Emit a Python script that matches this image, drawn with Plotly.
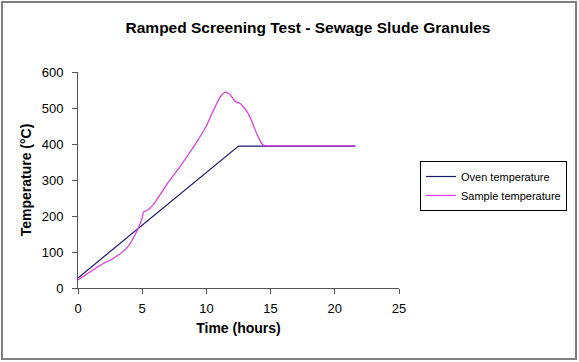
import plotly.graph_objects as go

# Data (hours, °C)
oven_time = [0, 12.5, 21.6]
oven_temp = [28, 394, 394]

sample_time = [0, 0.5, 1, 1.5, 2, 2.5, 3, 3.5, 4, 4.4, 4.67, 4.85, 5.0, 5.1, 5.45, 6, 7, 8, 9, 10, 10.5,
               10.8, 11.06, 11.3, 11.5, 11.7, 11.84, 12.0, 12.23, 12.6, 12.8, 13.0, 13.2, 13.4, 13.7,
               14.0, 14.2, 14.4, 14.6, 16, 18, 20, 21.6]
sample_temp = [22, 34, 46, 58, 69, 77, 88, 101, 120, 145, 164, 180, 195, 211, 217, 238, 292, 340, 392, 450,
               490, 512, 530, 540, 544, 541, 537, 530, 518, 513, 507, 498, 488, 474, 448,
               422, 408, 398, 395, 395, 395, 395, 395]

x_ticks = [0, 5, 10, 15, 20, 25]
y_ticks = [0, 100, 200, 300, 400, 500, 600]

fig = go.Figure()
fig.add_trace(go.Scatter(x=oven_time, y=oven_temp, mode="lines", name="Oven temperature",
                         line=dict(color="#1a1a6e", width=1.2)))
fig.add_trace(go.Scatter(x=sample_time, y=sample_temp, mode="lines", name="Sample temperature",
                         line=dict(color="#e033e0", width=1.2, shape="spline", smoothing=0.3)))

font_family = "Liberation Sans, Arial, sans-serif"

fig.update_layout(
    width=579, height=362,
    margin=dict(l=78, r=180, t=72, b=74),
    paper_bgcolor="white", plot_bgcolor="white",
    font=dict(family=font_family, color="black"),
    title=dict(text="<b>Ramped Screening Test - Sewage Slude Granules</b>",
               font=dict(size=15.5, family=font_family, color="black"),
               x=308/579, xanchor="center", y=1 - 28/362, yanchor="middle"),
    showlegend=True,
    legend=dict(x=(420-78)/321, y=(288-161)/216, xanchor="left", yanchor="top",
                bordercolor="black", borderwidth=1, bgcolor="white",
                font=dict(size=11, family=font_family), itemwidth=30,
                tracegroupgap=2),
    xaxis=dict(range=[0, 25], tickvals=x_ticks, showgrid=False, zeroline=False,
               showline=True, linecolor="#555555", linewidth=1,
               ticks="outside", ticklen=5, tickcolor="#555555",
               tickfont=dict(size=13), ticklabelstandoff=3,
               title=dict(text="<b>Time (hours)</b>", font=dict(size=14), standoff=8)),
    yaxis=dict(range=[0, 600], tickvals=y_ticks, showgrid=False, zeroline=False,
               showline=True, linecolor="#555555", linewidth=1,
               ticks="outside", ticklen=5, tickcolor="#555555",
               tickfont=dict(size=13), ticklabelstandoff=6,
               title=dict(text="<b>Temperature (°C)</b>", font=dict(size=14), standoff=6)),
)

fig.add_shape(type="rect", xref="paper", yref="paper",
              x0=(2-78)/321, x1=(576-78)/321, y0=(288-359)/216, y1=(288-2)/216,
              line=dict(color="#7f7f7f", width=2), fillcolor="rgba(0,0,0,0)", layer="below")

fig.write_html("out.html", config={"displayModeBar": False},
               post_script="document.body.style.margin='0';document.body.style.padding='0';")
